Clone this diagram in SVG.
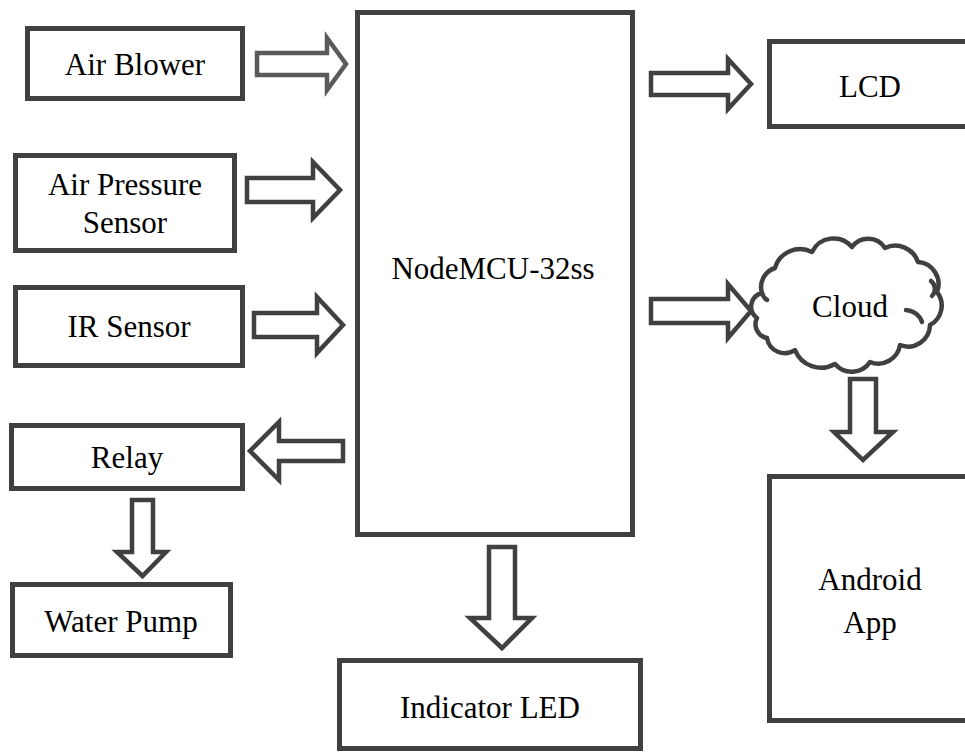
<svg xmlns="http://www.w3.org/2000/svg" width="965" height="752" viewBox="0 0 965 752">
<style>
.box{fill:#fff;stroke:#404040;stroke-width:5}
.arr{fill:#fff;stroke:#404040;stroke-width:4.5;stroke-linejoin:miter}
.arr2{fill:#fff;stroke:#5a5a5a;stroke-width:4.5}
.cl{fill:#fff;stroke:#404040;stroke-width:4.5;stroke-linejoin:round}
.cl2{fill:none;stroke:#404040;stroke-width:4.5;stroke-linecap:round}
.t{font-family:"Liberation Serif","Times New Roman",Times,serif;font-size:31px;fill:#000;text-anchor:middle}
</style>
<rect width="965" height="752" fill="#fff"/>
<g id="connectors">
<path class="arr2" d="M257,53 H327 V38 L346,64 L327,90 V75 H257 Z"/>
<path class="arr" d="M247,178 H313 V162 L340,190 L313,218 V202 H247 Z"/>
<path class="arr" d="M254,313 H317 V297 L343,325 L317,353 V337 H254 Z"/>
<path class="arr" d="M343,441 H279 V422 L250,451 L279,480 V461 H343 Z"/>
<path class="arr" d="M132,500 H153 V552 H166 L142.5,576 L117,552 H132 Z"/>
<path class="arr" d="M651,73 H728 V59 L751,84 L728,109 V95 H651 Z"/>
<path class="arr" d="M651,299 H728 V284 L751,311 L728,338 V323 H651 Z"/>
<path class="arr" d="M850,379 H876 V432 H893 L863,460 L834,432 H850 Z"/>
<path class="arr" d="M489,547 H515 V618 H532 L502,648 L470,618 H489 Z"/>
</g>
<g id="air-blower"><rect class="box" x="27.5" y="28.5" width="215" height="70"/><text class="t" x="135" y="75">Air Blower</text></g>
<g id="air-pressure-sensor"><rect class="box" x="15.5" y="155.5" width="219" height="95"/><text class="t" x="125" y="195">Air Pressure</text><text class="t" x="125" y="233">Sensor</text></g>
<g id="ir-sensor"><rect class="box" x="15.5" y="287.5" width="227" height="78"/><text class="t" x="129" y="337">IR Sensor</text></g>
<g id="relay"><rect class="box" x="11.5" y="425.5" width="231" height="63"/><text class="t" x="127" y="468">Relay</text></g>
<g id="water-pump"><rect class="box" x="12.5" y="584.5" width="218" height="71"/><text class="t" x="121" y="632">Water Pump</text></g>
<g id="nodemcu"><rect class="box" x="357.5" y="12.5" width="275" height="522"/><text class="t" x="493" y="279">NodeMCU-32ss</text></g>
<g id="lcd"><rect class="box" x="769.5" y="41.5" width="220" height="85"/><text class="t" x="870" y="97">LCD</text></g>
<g id="cloud">
<path class="cl" d="M757,318 A14,14 0 0 1 762,293 A20,20 0 0 1 775,268 A26,26 0 0 1 812,252 A24,24 0 0 1 852,247 A20,20 0 0 1 885,248 A24,24 0 0 1 918,262 A22,22 0 0 1 937,292 A22,22 0 0 1 930,325 A22,22 0 0 1 900,345 A22,22 0 0 1 870,362 A22,22 0 0 1 835,364 A28,28 0 0 1 795,350 A18,18 0 0 1 767,338 A14,14 0 0 1 757,318 Z"/>
<path class="cl2" d="M906,310 A18,18 0 0 1 922,322"/>
<path class="cl2" d="M931,281 A10,10 0 0 1 932,296"/>
<path class="cl2" d="M762,293 A12,12 0 0 0 767,300"/>
<text class="t" x="850" y="317">Cloud</text>
</g>
<g id="android-app"><rect class="box" x="769.5" y="476.5" width="220" height="244"/><text class="t" x="870" y="590">Android</text><text class="t" x="870" y="633">App</text></g>
<g id="indicator-led"><rect class="box" x="339.5" y="660.5" width="301" height="88"/><text class="t" x="490" y="718">Indicator LED</text></g>
</svg>
